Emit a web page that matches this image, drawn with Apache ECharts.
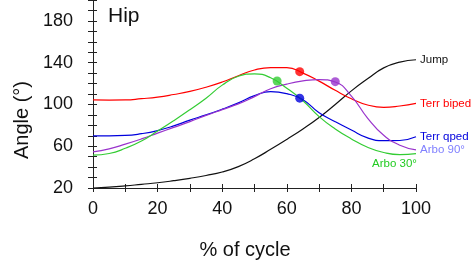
<!DOCTYPE html>
<html lang="en" style="height: 100%">
<head>
<meta charset="utf-8">
<title>Hip angle over the cycle</title>
</head>
<body style="height: 100%; margin: 0">
<div id="container" style="height: 100%"></div>

<script type="text/javascript" src="https://cdn.jsdelivr.net/npm/echarts/dist/echarts.min.js"></script>

<script type="text/javascript">
var dom = document.getElementById('container');
var myChart = echarts.init(dom);

// % of cycle sample points
var cycle = [0, 5, 10, 15, 20, 25, 30, 35, 40, 45, 50, 55, 60, 65, 70, 75, 80, 85, 90, 95, 100];

// hip angle (deg)
var jump      = [20, 20.8, 22, 23.5, 25, 27, 29.3, 32, 35.3, 40.5, 48, 57, 66.5, 76.5, 87.5, 100, 113, 124.5, 135, 140.5, 142.8];
var terrBiped = [104.3, 104.2, 104.3, 105.5, 107, 109.5, 112.5, 116.5, 121.5, 127.5, 133, 135.3, 135.3, 130, 122.3, 113.5, 105.5, 99.5, 97.2, 98.5, 101];
var terrQped  = [70, 70, 70.3, 72, 75, 79.5, 85, 90, 95.5, 101.5, 108.5, 112.3, 110.3, 104.5, 92, 83.5, 75.5, 68, 65.3, 65.5, 69];
var arbo90    = [54.5, 57.5, 62, 67, 72.5, 78, 83.5, 89.5, 95, 100.5, 107.5, 115, 119.5, 122.5, 123.8, 121.5, 108, 87, 70.5, 61, 56.5];
var arbo30    = [51.5, 53, 58, 65, 74.5, 84.5, 95, 106, 118.5, 127, 129.3, 125.5, 115.5, 103.5, 88.3, 76.5, 67, 59, 54, 52, 53];

// highlighted points
var dotCycle = [64, 57, 64, 75];
var dotAngle = [131.4, 122.5, 106, 121.8];
var dotColors = ['#ff0000', '#33cc33', '#0000dd', '#9933cc'];

var font = 'Liberation Sans, Arial, sans-serif';

function lineSeries(name, values, color, labelColor, offset) {
  return {
    name: name,
    type: 'line',
    data: cycle.map(function (x, i) { return [x, values[i]]; }),
    smooth: true,
    symbol: 'none',
    silent: true,
    lineStyle: { color: color, width: 1.2 },
    endLabel: {
      show: true,
      formatter: '{a}',
      color: labelColor,
      fontSize: 11.5,
      fontFamily: font,
      distance: 4,
      offset: offset || [0, 0]
    }
  };
}

var tickStyle = { color: '#222', width: 1 };

option = {
  animation: false,
  grid: { left: 93, right: 59, top: 0, bottom: 81, containLabel: false },
  xAxis: [
    {
      type: 'value',
      min: 0,
      max: 100,
      interval: 10,
      splitLine: { show: false },
      axisLine: { lineStyle: tickStyle },
      axisTick: { length: 4, lineStyle: tickStyle },
      axisLabel: {
        margin: 12,
        fontSize: 18,
        fontFamily: font,
        color: '#111',
        formatter: function (v) { return v % 20 === 0 ? v : ''; }
      }
    },
    {
      type: 'value',
      min: 0,
      max: 100,
      interval: 10,
      position: 'bottom',
      splitLine: { show: false },
      axisLine: { show: false },
      axisTick: { inside: true, length: 4, lineStyle: tickStyle },
      axisLabel: { show: false }
    }
  ],
  yAxis: [
    {
      type: 'value',
      min: 20,
      max: 200,
      interval: 10,
      splitLine: { show: false },
      axisLine: { show: true, lineStyle: tickStyle },
      axisTick: { show: true, length: 5, lineStyle: tickStyle },
      axisLabel: {
        margin: 20,
        fontSize: 18,
        fontFamily: font,
        color: '#111',
        formatter: function (v) { return (v - 20) % 40 === 0 && v < 200 ? v : ''; }
      }
    },
    {
      type: 'value',
      min: 20,
      max: 200,
      interval: 10,
      position: 'left',
      splitLine: { show: false },
      axisLine: { show: false },
      axisTick: { show: true, inside: true, length: 4, lineStyle: tickStyle },
      axisLabel: { show: false }
    }
  ],
  graphic: [
    {
      type: 'text', left: 108, top: 6,
      style: { text: 'Hip', fontSize: 21, fontFamily: font, fill: '#111' }
    },
    {
      type: 'text', x: 22, y: 120, rotation: Math.PI / 2,
      style: { text: 'Angle (°)', fontSize: 20, fontFamily: font, fill: '#111', align: 'center', verticalAlign: 'middle' }
    },
    {
      type: 'text', x: 245, y: 250,
      style: { text: '% of cycle', fontSize: 20, fontFamily: font, fill: '#111', align: 'center', verticalAlign: 'middle' }
    }
  ],
  series: [
    lineSeries('Jump', jump, '#111111', '#111111'),
    lineSeries('Terr biped', terrBiped, '#ff0000', '#ff0000'),
    lineSeries('Terr qped', terrQped, '#0000dd', '#0000dd'),
    lineSeries('Arbo 90°', arbo90, '#9933cc', '#8080ff'),
    lineSeries('Arbo 30°', arbo30, '#33cc33', '#22cc22', [-48, 10]),
    {
      type: 'scatter',
      symbolSize: 9,
      silent: true,
      z: 5,
      data: dotCycle.map(function (x, i) {
        return { value: [x, dotAngle[i]], itemStyle: { color: dotColors[i] } };
      })
    }
  ]
};

if (option && typeof option === 'object') {
  myChart.setOption(option);
}

window.addEventListener('resize', myChart.resize);
</script>
</body>
</html>
